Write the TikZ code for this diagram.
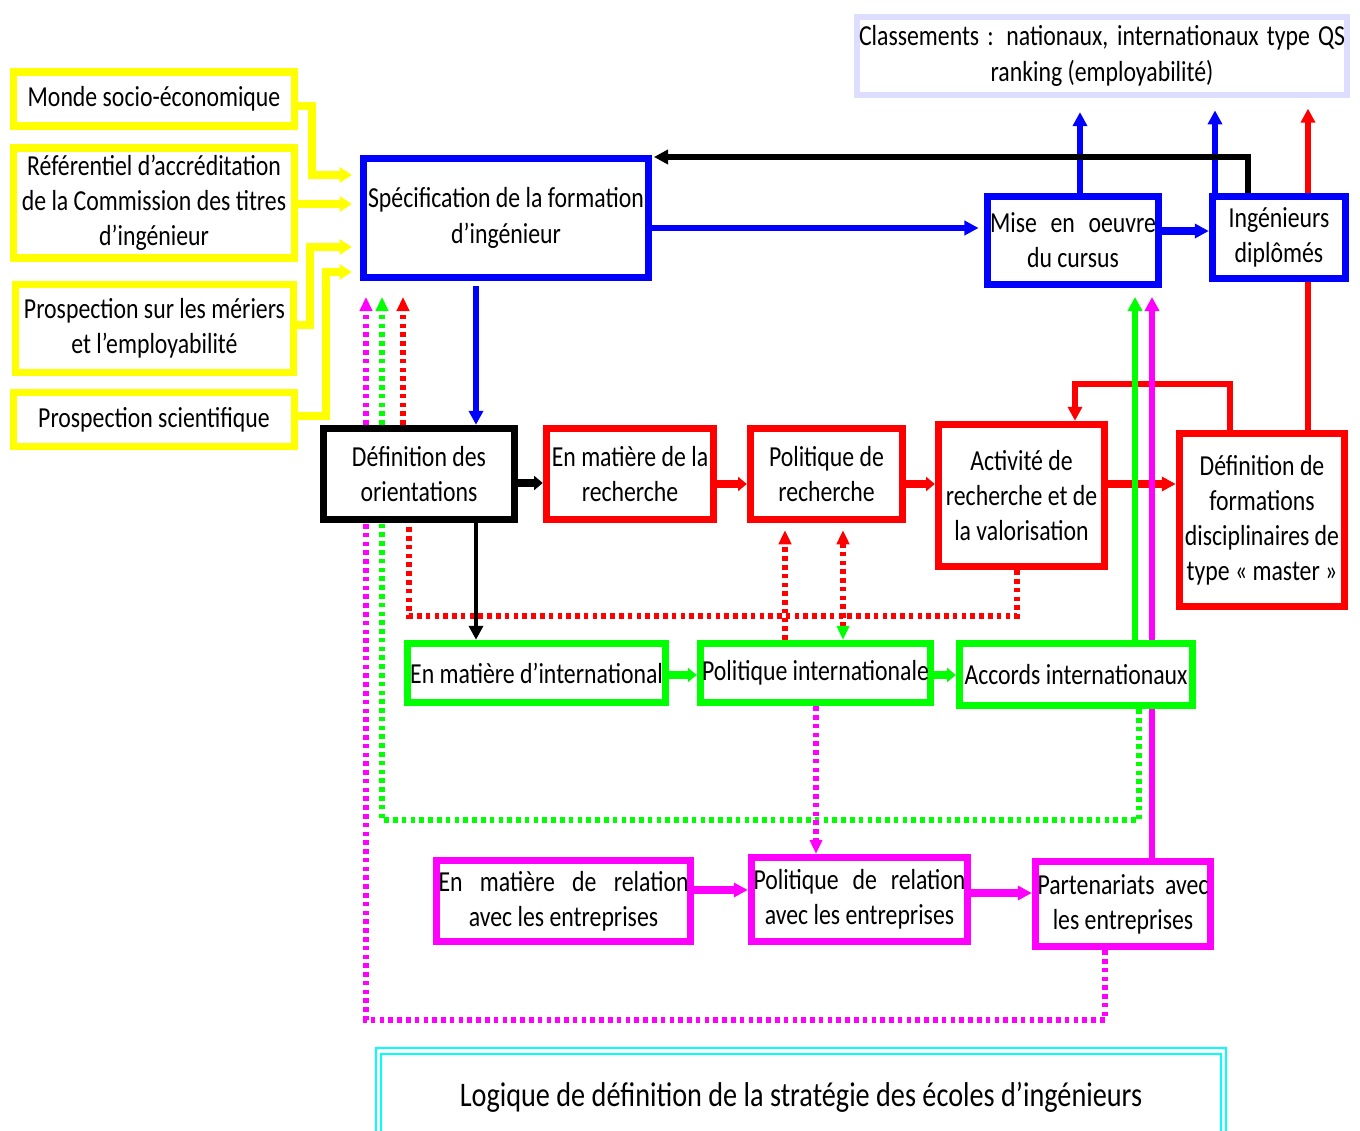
\documentclass[tikz,border=0pt]{standalone}
\usepackage{fontspec}
\setmainfont{Carlito}[FakeStretch=0.82]
\usepackage{xcolor}
\usepackage{tikz}
\usetikzlibrary{arrows.meta}
\definecolor{yel}{RGB}{255,255,0}
\definecolor{blu}{RGB}{0,0,255}
\definecolor{rd}{RGB}{255,0,0}
\definecolor{grn}{RGB}{0,255,0}
\definecolor{mag}{RGB}{255,0,255}
\definecolor{lav}{RGB}{221,221,255}
\definecolor{cyn}{RGB}{0,255,255}
\newcommand{\pxu}{0.02cm}
\newcommand{\spreadln}[1]{\makebox[\hsize][s]{#1}}

\begin{document}
\begin{tikzpicture}[
    x=0.02cm, y=-0.02cm,
    every node/.style={font=\fontsize{16.5}{20}\selectfont},
    box/.style={draw, line width=4.2pt, fill=white, align=center, inner sep=1pt},
    wbox/.style={align=flush center, inner sep=0pt},
    wh/.style 2 args={minimum width=#1*\pxu, minimum height=#2*\pxu},
    ybox/.style={box, draw=yel},
    bbox/.style={box, draw=blu},
    kbox/.style={box, draw=black},
    rbox/.style={box, draw=rd},
    gbox/.style={box, draw=grn},
    mbox/.style={box, draw=mag},
    yarr/.style={yel, line width=4.8pt, -{Triangle[length=7pt,width=8.5pt]}, shorten >=4.5pt},
    barr/.style={blu, line width=3.2pt, -{Triangle[length=8pt,width=8pt]}},
    rarr/.style={rd, line width=3.2pt, -{Triangle[length=8pt,width=8pt]}},
    garr/.style={grn, line width=3.2pt, -{Triangle[length=8pt,width=8pt]}},
    marr/.style={mag, line width=3.2pt, -{Triangle[length=8pt,width=8pt]}},
    karr/.style={black, line width=3.2pt, -{Triangle[length=8pt,width=8pt]}},
    dots/.style={line width=3pt, dash pattern=on 2.6pt off 2.4pt},
    tipup/.style={-{Triangle[length=8pt,width=7pt]}}
]
\useasboundingbox (0,0) rectangle (1360,1131);

\node[ybox, wh={281}{54}] (socio) at (154,99) {Monde socio-économique};
\node[ybox, wh={281}{110}] (cti) at (154,203) {Référentiel d’accréditation\\de la Commission des titres\\d’ingénieur};
\node[ybox, wh={278}{88}] (metiers) at (154.5,328.5) {Prospection sur les mériers\\et l’employabilité};
\node[ybox, wh={281}{54}] (scient) at (154,419.5) {Prospection scientifique};

\node[bbox, wh={285}{119}] (spec) at (506,218) {Spécification de la formation\\d’ingénieur};
\node[bbox, wbox, wh={171}{88}, text width=166*\pxu] (mise) at (1073,240.5) {\spreadln{Mise en oeuvre}\\du cursus};
\node[bbox, wh={133}{82}] (ingen) at (1279,237.5) {Ingénieurs\\diplômés};
\node[box, wbox, draw=lav, line width=3.5pt, wh={490}{78}, text width=486*\pxu] (classt) at (1102,56) {\spreadln{Classements : nationaux, internationaux type QS}\\ranking (employabilité)};

\node[kbox, wh={191}{91}] (orient) at (419,474) {Définition des\\orientations};
\node[rbox, wh={167}{91}] (matrech) at (630,474) {En matière de la\\recherche};
\node[rbox, wh={152}{91}] (polrech) at (826.5,474) {Politique de\\recherche};
\node[rbox, wh={166}{142}] (activ) at (1021.5,495.5) {Activité de\\recherche et de\\la valorisation};
\node[rbox, wh={165}{173}] (master) at (1262,520) {Définition de\\formations\\disciplinaires de\\type « master »};

\node[gbox, wh={258}{59}] (matint) at (536.5,673) {En matière d’international};
\node[gbox, wh={230}{59}] (polint) at (815.5,673) {Politique internationale};
\node[gbox, wh={233}{62}] (accords) at (1076,674.5) {Accords internationaux};

\node[mbox, wbox, wh={254}{81}, text width=250*\pxu] (matrel) at (563.5,901) {\spreadln{En matière de relation}\\avec les entreprises};
\node[mbox, wbox, wh={216}{84}, text width=212*\pxu] (polrel) at (859.5,899.5) {\spreadln{Politique de relation}\\avec les entreprises};
\node[mbox, wbox, wh={175}{85}, text width=171*\pxu] (parten) at (1123,904) {\spreadln{Partenariats avec}\\les entreprises};

\draw[yarr] (socio.east |- 0,106) -| (312,175) -- (spec.west |- 0,175);
\draw[yarr] (cti.east |- 0,204) -- (spec.west |- 0,204);
\draw[yarr] (metiers.east |- 0,325) -| (310,247) -- (spec.west |- 0,247);
\draw[yarr] (scient.east |- 0,416) -| (326,272) -- (spec.west |- 0,272);

\draw[barr, shorten >=3pt] (spec.east |- 0,228) -- (mise.west |- 0,228);
\draw[barr, line width=4.8pt] (mise.east |- 0,231) -- (ingen.west |- 0,231);
\draw[barr, shorten >=8pt] (mise.north -| 1080,0) -- (classt.south -| 1080,0);
\draw[barr, shorten >=7pt] (ingen.north -| 1215,0) -- (classt.south -| 1215,0);
\draw[rd, line width=3.2pt] (master.north -| 1308,0) -- (ingen.south -| 1308,0);
\draw[rarr, shorten >=6pt] (ingen.north -| 1308,0) -- (classt.south -| 1308,0);
\draw[karr, line width=3.6pt, shorten >=1pt] (ingen.north -| 1248,0) |- (spec.east |- 0,157);
\draw[barr, shorten <=3pt] (spec.south -| 476,0) -- (orient.north -| 476,0);

\draw[karr, line width=4.5pt, -{Triangle[length=5pt,width=8pt]}] (orient.east |- 0,483) -- (matrech.west |- 0,483);
\draw[rarr, line width=4.5pt, -{Triangle[length=5pt,width=8pt]}] (matrech.east |- 0,484) -- (polrech.west |- 0,484);
\draw[rarr, line width=4.5pt, -{Triangle[length=5pt,width=8pt]}] (polrech.east |- 0,484) -- (activ.west |- 0,484);
\draw[rarr, line width=4pt] (activ.east |- 0,484) -- (master.west |- 0,484);
\draw[rarr] (master.north -| 1230,0) |- (1075,384) -- (activ.north -| 1075,0);

\draw[rd, dots] (activ.south -| 1017,0) |- (409,616) -- (orient.south -| 409,0);
\draw[rd, dots, tipup, shorten >=9pt] (orient.north -| 403,0) -- (spec.south -| 403,0);
\draw[grn, dots] (accords.south -| 1139,0) |- (382,820) -- (orient.south -| 382,0);
\draw[grn, dots, tipup, shorten >=9pt] (orient.north -| 382,0) -- (spec.south -| 382,0);
\draw[mag, dots] (parten.south -| 1105,0) |- (366,1020) -- (orient.south -| 366,0);
\draw[mag, dots, tipup, shorten >=9pt] (orient.north -| 366,0) -- (spec.south -| 366,0);

\draw[rd, dots, tipup, shorten >=4pt] (polint.north -| 785,0) -- (polrech.south -| 785,0);
\draw[rd, dots, {Triangle[length=8pt,width=7pt,color=grn]}-{Triangle[length=8pt,width=7pt,color=rd]}, shorten >=4pt] (polint.north -| 843,0) -- (polrech.south -| 843,0);
\draw[karr, line width=2.6pt] (orient.south -| 476,0) -- (matint.north -| 476,0);

\draw[garr, line width=4.5pt, -{Triangle[length=5pt,width=8pt]}] (matint.east |- 0,675) -- (polint.west |- 0,675);
\draw[garr, line width=4.5pt, -{Triangle[length=5pt,width=8pt]}] (polint.east |- 0,675) -- (accords.west |- 0,675);
\draw[garr, shorten >=5pt] (accords.north -| 1135,0) -- (mise.south -| 1135,0);
\draw[mag, line width=3.2pt] (parten.north -| 1152,0) -- (accords.south -| 1152,0);
\draw[marr, shorten >=5pt] (accords.north -| 1152,0) -- (mise.south -| 1152,0);
\draw[mag, dots, tipup] (polint.south -| 816,0) -- (polrel.north -| 816,0);

\draw[marr, line width=4.8pt] (matrel.east |- 0,890) -- (polrel.west |- 0,890);
\draw[marr, line width=4.8pt] (polrel.east |- 0,893) -- (parten.west |- 0,893);

\draw[cyn, line width=1pt] (376,1131) |- (1226,1048) -- (1226,1131);
\draw[cyn, line width=1pt] (381,1131) |- (1221,1054) -- (1221,1131);
\node[font=\fontsize{19.6}{23}\selectfont] (titre) at (801,1097) {Logique de définition de la stratégie des écoles d’ingénieurs};
\end{tikzpicture}
\end{document}
